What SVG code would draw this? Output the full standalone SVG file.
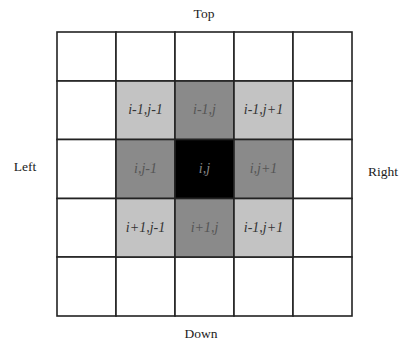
<svg xmlns="http://www.w3.org/2000/svg" width="402" height="346" viewBox="0 0 402 346">
<style>
.cell{stroke:#222;stroke-width:1.6}
.w{fill:#fff}
.l{fill:#c3c3c3}
.m{fill:#8a8a8a}
.k{fill:#000}
.lab{font-size:13.5px;fill:#222;text-anchor:middle}
.c{font-style:italic;font-size:14px;fill:#333;text-anchor:middle}
.cd{fill:#555}
.ck{fill:#888}
</style>
<rect width="402" height="346" fill="#fff"/>
<g id="grid">
<rect class="cell w" x="57" y="32" width="59" height="49"/>
<rect class="cell w" x="116" y="32" width="59" height="49"/>
<rect class="cell w" x="175" y="32" width="59" height="49"/>
<rect class="cell w" x="234" y="32" width="59" height="49"/>
<rect class="cell w" x="293" y="32" width="59" height="49"/>
<rect class="cell w" x="57" y="81" width="59" height="58.5"/>
<rect class="cell w" x="293" y="81" width="59" height="58.5"/>
<rect class="cell w" x="57" y="139.5" width="59" height="59"/>
<rect class="cell w" x="293" y="139.5" width="59" height="59"/>
<rect class="cell w" x="57" y="198.5" width="59" height="58.5"/>
<rect class="cell w" x="293" y="198.5" width="59" height="58.5"/>
<rect class="cell w" x="57" y="257" width="59" height="59"/>
<rect class="cell w" x="116" y="257" width="59" height="59"/>
<rect class="cell w" x="175" y="257" width="59" height="59"/>
<rect class="cell w" x="234" y="257" width="59" height="59"/>
<rect class="cell w" x="293" y="257" width="59" height="59"/>
</g>
<g font-family="Liberation Serif, DejaVu Serif, serif">
<g id="n-im1-jm1"><rect class="cell l" x="116" y="81" width="59" height="58.5"/><text class="c" x="145.5" y="114">i-1,j-1</text></g>
<g id="n-im1-j"><rect class="cell m" x="175" y="81" width="59" height="58.5"/><text class="c cd" x="204.5" y="114">i-1,j</text></g>
<g id="n-im1-jp1"><rect class="cell l" x="234" y="81" width="59" height="58.5"/><text class="c" x="263.5" y="114">i-1,j+1</text></g>
<g id="n-i-jm1"><rect class="cell m" x="116" y="139.5" width="59" height="59"/><text class="c cd" x="145.5" y="173">i,j-1</text></g>
<g id="n-i-j"><rect class="cell k" x="175" y="139.5" width="59" height="59"/><text class="c ck" x="204.5" y="173">i,j</text></g>
<g id="n-i-jp1"><rect class="cell m" x="234" y="139.5" width="59" height="59"/><text class="c cd" x="263.5" y="173">i,j+1</text></g>
<g id="n-ip1-jm1"><rect class="cell l" x="116" y="198.5" width="59" height="58.5"/><text class="c" x="145.5" y="232">i+1,j-1</text></g>
<g id="n-ip1-j"><rect class="cell m" x="175" y="198.5" width="59" height="58.5"/><text class="c cd" x="204.5" y="232">i+1,j</text></g>
<g id="n-ip1-jp1"><rect class="cell l" x="234" y="198.5" width="59" height="58.5"/><text class="c" x="263.5" y="232">i-1,j+1</text></g>
<g id="connectors"></g>
<g id="labels">
<text class="lab" x="204" y="18">Top</text>
<text class="lab" x="25" y="171">Left</text>
<text class="lab" x="383" y="176">Right</text>
<text class="lab" x="201" y="338">Down</text>
</g>
</g>
</svg>
